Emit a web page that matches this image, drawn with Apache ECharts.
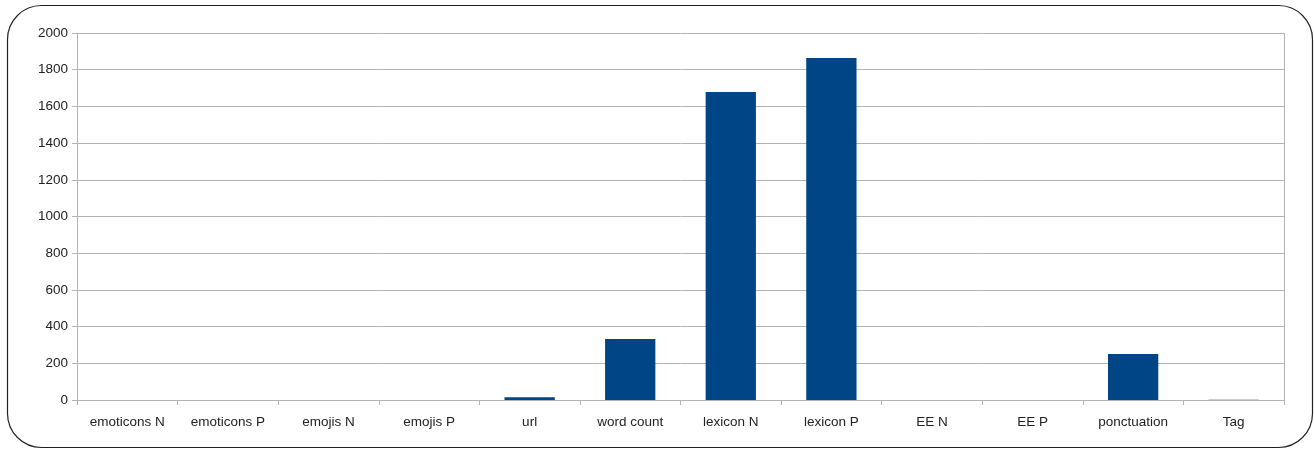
<!DOCTYPE html>
<html>
<head>
<meta charset="utf-8">
<script src="https://cdn.jsdelivr.net/npm/echarts@6/dist/echarts.min.js"></script>
<style>
  html, body { margin: 0; padding: 0; background: #fff; }
  #chart { width: 1314px; height: 449px; }
</style>
</head>
<body>
<div id="chart"></div>
<script>
  // categories and values
  var categories = ['emoticons N', 'emoticons P', 'emojis N', 'emojis P', 'url', 'word count',
    'lexicon N', 'lexicon P', 'EE N', 'EE P', 'ponctuation', 'Tag']
  var counts = [0, 0, 0, 0, 15, 332, 1678, 1864, 0, 0, 251, 2]

  var myChart = echarts.init(document.getElementById('chart'))
  var option = {
    animation: false,
    textStyle: { fontFamily: 'Liberation Sans' },
    graphic: [
      {
        type: 'rect',
        shape: { x: 7.5, y: 5.5, width: 1305, height: 442, r: 34 },
        style: { fill: 'none', stroke: '#222', lineWidth: 1.2 },
        silent: true
      },
      // right edge of the plot area
      {
        type: 'line',
        shape: { x1: 1284.5, y1: 33, x2: 1284.5, y2: 400 },
        style: { stroke: '#b3b3b3', lineWidth: 1 },
        silent: true
      }
    ],
    grid: { left: 77, right: 30, top: 33, bottom: 49 },
    xAxis: {
      type: 'category',
      data: categories,
      axisLine: { lineStyle: { color: '#b3b3b3' } },
      axisTick: { show: true, length: 5, lineStyle: { color: '#b3b3b3' } },
      axisLabel: { color: '#222', fontSize: 13.5, margin: 15 }
    },
    yAxis: {
      type: 'value',
      min: 0,
      max: 2000,
      interval: 200,
      axisLine: { show: true, lineStyle: { color: '#b3b3b3' } },
      axisTick: { show: true, length: 5, lineStyle: { color: '#b3b3b3' } },
      axisLabel: { color: '#222', fontSize: 13.5, margin: 9, formatter: function (v) { return String(v) } },
      splitLine: { lineStyle: { color: '#b3b3b3' } }
    },
    series: [
      {
        type: 'bar',
        data: counts,
        barWidth: '50%',
        itemStyle: { color: '#004586' }
      }
    ]
  }
  myChart.setOption(option)
</script>
</body>
</html>
